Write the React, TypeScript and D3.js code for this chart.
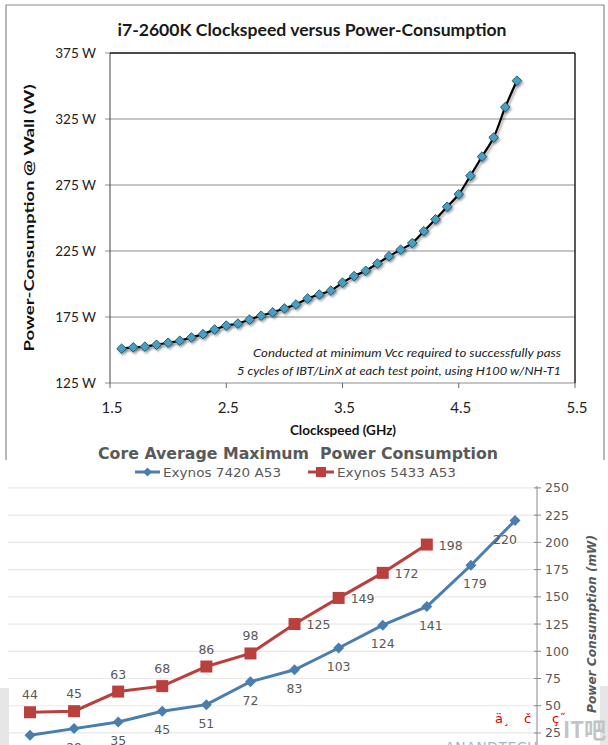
import React from "react";
import * as d3 from "d3";

// ---------- Top chart data ----------
const clockGHz = [1.6,1.7,1.8,1.9,2.0,2.1,2.2,2.3,2.4,2.5,2.6,2.7,2.8,2.9,3.0,3.1,3.2,3.3,3.4,3.5,3.6,3.7,3.8,3.9,4.0,4.1,4.2,4.3,4.4,4.5,4.6,4.7,4.8,4.9,5.0];
const powerW = [151,152,152.5,154,155.5,157,159.5,162,165.5,168.5,170,173,176,178.5,181.5,184.5,189,192,195,201,206,210,215.5,221,226,231,240,249,258.5,268,282,296.5,311,334,354];
const topYTicks = [125,175,225,275,325,375];
const topXTicks = [1.5,2.5,3.5,4.5,5.5];
const topTitle = "i7-2600K Clockspeed versus Power-Consumption";
const noteLines = ["Conducted at minimum Vcc required to successfully pass","5 cycles of IBT/LinX at each test point, using H100 w/NH-T1"];

// ---------- Bottom chart data ----------
const freqMHz = ["400","500","600","700","800","900","1000","1100","1200","1300","1400","1500"];
const exynos7420 = [23,29,35,45,51,72,83,103,124,141,179,220];
const exynos5433 = [44,45,63,68,86,98,125,149,172,198];
const bottomYTicks = [0,25,50,75,100,125,150,175,200,225,250];
const bottomTitle = "Core Average Maximum  Power Consumption";
const seriesNames = ["Exynos 7420 A53","Exynos 5433 A53"];

export default function App() {
  // top scales
  const tx = d3.scaleLinear().domain([1.5,5.5]).range([110,575]);
  const ty = d3.scaleLinear().domain([125,375]).range([383,53]);
  const topPts: [number,number][] = clockGHz.map((g,i)=>[tx(g),ty(powerW[i])]);
  const topLine = d3.line().curve(d3.curveCatmullRom.alpha(0.5))(topPts) || "";
  const diamond = (s:number)=>`M0,${-s}L${s},0L0,${s}L${-s},0Z`;

  // bottom scales
  const bx = d3.scalePoint().domain(freqMHz).range([30,515]);
  const by = d3.scaleLinear().domain([0,250]).range([760.2,487.9]);
  const blue = "#4a7db0";
  const red = "#b9403d";
  const grayText = "#595959";
  const bluePts: [number,number][] = exynos7420.map((v,i)=>[bx(freqMHz[i]) as number, by(v)]);
  const redPts: [number,number][] = exynos5433.map((v,i)=>[bx(freqMHz[i]) as number, by(v)]);
  const lin = d3.line();

  const topFont = "Lato, 'Open Sans', sans-serif";
  const botFont = "'DejaVu Sans', Verdana, sans-serif";

  return (
    <svg width={608} height={745} style={{position:"absolute",left:0,top:0,background:"#fff"}} xmlns="http://www.w3.org/2000/svg">
      <defs>
        <filter id="sh" x="-50%" y="-50%" width="200%" height="200%">
          <feDropShadow dx="1.5" dy="2" stdDeviation="1.2" floodColor="#000" floodOpacity="0.35"/>
        </filter>
      </defs>
      <rect x={0} y={0} width={608} height={745} fill="#fff"/>
      {/* top frame */}
      <path d="M6,460 L6,5 L604,5 L604,460" fill="none" stroke="#8a8a8a" strokeWidth={1.2}/>
      <text x={312} y={36} textAnchor="middle" fontFamily={topFont} fontWeight="bold" fontSize={17.5} fill="#1a1a1a" textLength={389} lengthAdjust="spacingAndGlyphs">{topTitle}</text>

      {/* gridlines */}
      {topYTicks.map(t=>(
        <line key={"g"+t} x1={105} x2={575} y1={ty(t)} y2={ty(t)} stroke={t===125?"#8c8c8c":"#8c8c8c"} strokeWidth={1}/>
      ))}
      {/* plot border */}
      <line x1={110} x2={110} y1={53} y2={383} stroke="#444" strokeWidth={1}/>
      <line x1={575} x2={575} y1={53} y2={383} stroke="#222" strokeWidth={1.5}/>
      <line x1={110} x2={575} y1={53} y2={53} stroke="#222" strokeWidth={1.5}/>
      {topXTicks.map(t=>(
        <line key={"xt"+t} x1={tx(t)} x2={tx(t)} y1={383} y2={388} stroke="#666"/>
      ))}
      {topYTicks.map(t=>(
        <text key={"yl"+t} x={96} y={ty(t)+5} textAnchor="end" fontFamily={topFont} fontSize={13.5} fill="#222">{`${t} W`}</text>
      ))}
      {topXTicks.map(t=>(
        <text key={"xl"+t} x={tx(t)+2} y={413} textAnchor="middle" fontFamily={topFont} fontSize={15} fill="#222">{t.toFixed(1)}</text>
      ))}
      <text x={343} y={435} textAnchor="middle" fontFamily={topFont} fontWeight="bold" fontSize={13.5} fill="#111">Clockspeed (GHz)</text>
      <text transform="translate(34,218) rotate(-90)" textAnchor="middle" fontFamily={topFont} fontWeight="bold" fontSize={13.5} fill="#111" textLength={267} lengthAdjust="spacingAndGlyphs">Power-Consumption @ Wall (W)</text>

      <text x={561} y={357} textAnchor="end" fontFamily={topFont} fontStyle="italic" fontSize={11.5} fill="#222" textLength={308} lengthAdjust="spacingAndGlyphs">{noteLines[0]}</text>
      <text x={561} y={375} textAnchor="end" fontFamily={topFont} fontStyle="italic" fontSize={11.5} fill="#222" textLength={324} lengthAdjust="spacingAndGlyphs">{noteLines[1]}</text>

      <path d={topLine} fill="none" stroke="#000" strokeWidth={2.2} filter="url(#sh)"/>
      <g filter="url(#sh)">
        {topPts.map((p,i)=>(
          <path key={"d"+i} d={diamond(4.8)} transform={`translate(${p[0]},${p[1]})`} fill="#4a9fc2" stroke="#1f5a74" strokeWidth={1}/>
        ))}
      </g>

      {/* ---------- bottom chart ---------- */}
      <rect x={10} y={440} width={590} height={305} fill="#fff"/>
      <text x={298} y={459} textAnchor="middle" fontFamily={botFont} fontWeight="bold" fontSize={16.5} fill={grayText} textLength={400} lengthAdjust="spacingAndGlyphs" style={{whiteSpace:"pre"}}>{bottomTitle}</text>
      {/* legend */}
      <line x1={135} x2={160} y1={472} y2={472} stroke={blue} strokeWidth={3}/>
      <path d={diamond(4.5)} transform="translate(147.5,472)" fill={blue}/>
      <text x={163} y={477} fontFamily={botFont} fontSize={13} fill={grayText} textLength={118} lengthAdjust="spacingAndGlyphs">{seriesNames[0]}</text>
      <line x1={308} x2={334} y1={472} y2={472} stroke={red} strokeWidth={3}/>
      <rect x={316} y={467} width={10} height={10} fill={red}/>
      <text x={337} y={477} fontFamily={botFont} fontSize={13} fill={grayText} textLength={119} lengthAdjust="spacingAndGlyphs">{seriesNames[1]}</text>

      {/* gray panels */}
      <rect x={0} y={688} width={9} height={57} fill="#e6e6e6"/>
      <rect x={600} y={686} width={8} height={59} fill="#e6e6e6"/>

      {bottomYTicks.filter(t=>t>0).map(t=>(
        <line key={"bg"+t} x1={8} x2={537} y1={by(t)} y2={by(t)} stroke="#e8e8e8" strokeWidth={1.2}/>
      ))}
      <line x1={537} x2={537} y1={486} y2={745} stroke="#8a8a8a" strokeWidth={1}/>
      {bottomYTicks.filter(t=>t>0).map(t=>(
        <g key={"bt"+t}>
          <line x1={534} x2={541} y1={by(t)} y2={by(t)} stroke="#8a8a8a"/>
          <text x={545} y={by(t)+4.5} fontFamily={botFont} fontSize={12.5} fill={grayText}>{t}</text>
        </g>
      ))}
      <text transform="translate(596,624) rotate(-90)" textAnchor="middle" fontFamily={botFont} fontWeight="bold" fontStyle="italic" fontSize={13} fill={grayText} textLength={178} lengthAdjust="spacingAndGlyphs">Power Consumption (mW)</text>

      <path d={lin(bluePts) || ""} fill="none" stroke={blue} strokeWidth={3}/>
      <path d={lin(redPts) || ""} fill="none" stroke={red} strokeWidth={3}/>
      {bluePts.map((p,i)=>(
        <path key={"bd"+i} d={diamond(5.5)} transform={`translate(${p[0]},${p[1]})`} fill={blue}/>
      ))}
      {redPts.map((p,i)=>(
        <rect key={"rs"+i} x={p[0]-6} y={p[1]-6} width={12} height={12} fill={red}/>
      ))}
      {bluePts.map((p,i)=>{
        const last = i===bluePts.length-1;
        const dx = last ? -10 : (i>=9 ? 4 : 0);
        return <text key={"bl"+i} x={p[0]+dx} y={p[1]+23} textAnchor="middle" fontFamily={botFont} fontSize={12.5} fill={grayText}>{exynos7420[i]}</text>;
      })}
      {redPts.map((p,i)=>{
        const right = i>=6;
        return <text key={"rl"+i} x={right ? p[0]+12 : p[0]} y={right ? p[1]+5 : p[1]-13} textAnchor={right?"start":"middle"} fontFamily={botFont} fontSize={12.5} fill={grayText}>{exynos5433[i]}</text>;
      })}

      {/* watermarks */}
      <text x={445} y={752} fontFamily={botFont} fontSize={14} fill="#8cc0dd" letterSpacing={0.5}>ANANDTECH</text>
      <text x={495} y={723} fontFamily={botFont} fontSize={13} fill="#e00000">ä¸</text>
      <text x={524} y={723} fontFamily={botFont} fontSize={13} fill="#e00000">č</text>
      <text x={552} y={723} fontFamily={botFont} fontSize={13} fill="#e00000">ç˝</text>
      <text x={563} y={738} fontFamily="'Noto Sans CJK SC', sans-serif" fontWeight="bold" fontSize={22} fill="#c4c4c4">IT吧</text>
    </svg>
  );
}
